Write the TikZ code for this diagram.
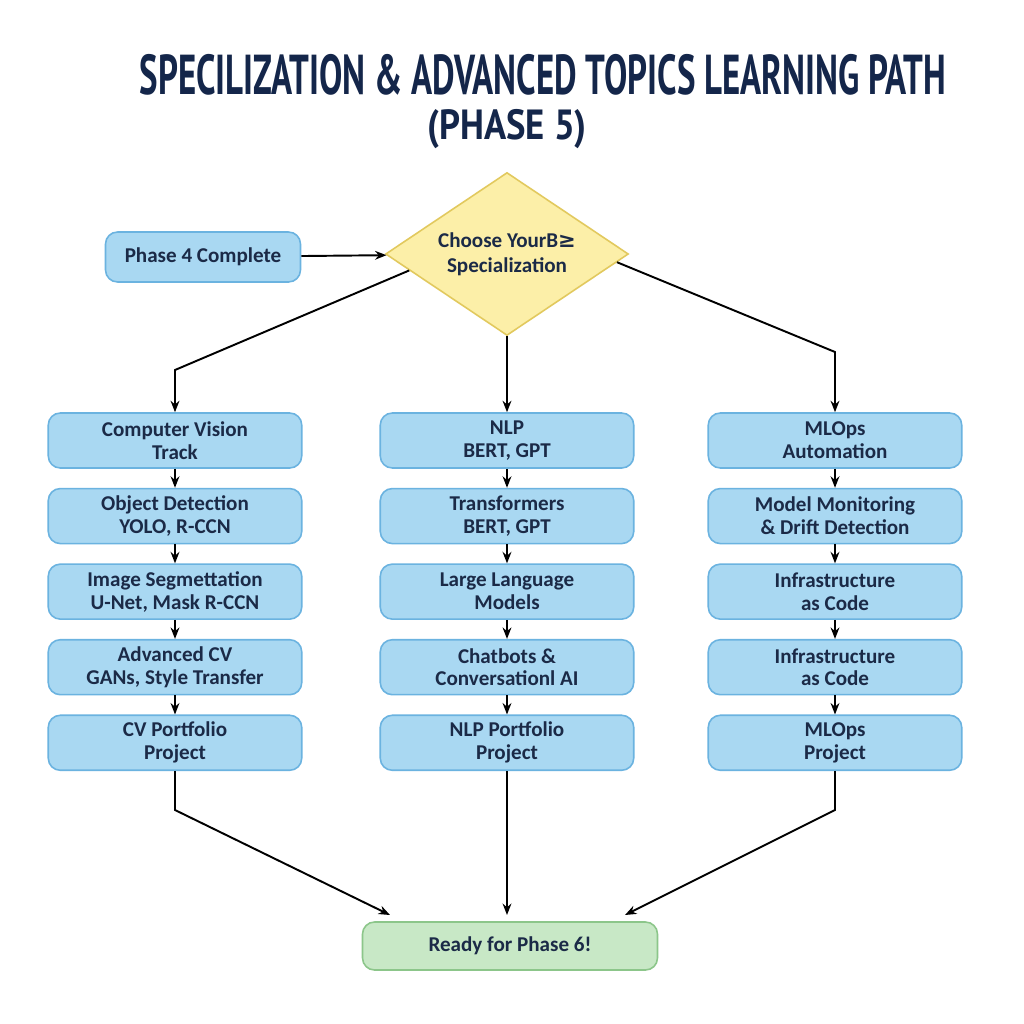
\documentclass[tikz,border=0pt]{standalone}
\usepackage{fontspec}
\setmainfont{Carlito}
\newfontfamily\titlefont{PT Sans}
\newfontfamily\symfont{DejaVu Sans}
\usetikzlibrary{arrows.meta,positioning,shapes.geometric,calc}
\definecolor{boxfill}{HTML}{A9D8F2}
\definecolor{boxline}{HTML}{6BB3E0}
\definecolor{choicefill}{HTML}{FCEFA8}
\definecolor{choiceline}{HTML}{E2C95E}
\definecolor{donefill}{HTML}{C8E8C6}
\definecolor{doneline}{HTML}{8CC68A}
\definecolor{textc}{HTML}{1B2A47}
\definecolor{titlec}{HTML}{14264A}

\begin{document}
\begin{tikzpicture}[x=0.02cm, y=-0.02cm, font=\bfseries, >={Stealth[length=6.5pt,width=5pt]}, line width=1.1pt,
  track/.style={draw=boxline, line width=0.9pt, fill=boxfill, rounded corners=0.24cm, text=textc,
    minimum width=5.07cm, minimum height=1.1cm, inner ysep=1pt, align=center, font=\bfseries\fontsize{12}{13}\selectfont},
  choice/.style={diamond, draw=choiceline, line width=0.9pt, fill=choicefill, text=textc, aspect=1.5,
    minimum width=4.86cm, minimum height=3.26cm, inner sep=0pt, align=center, font=\bfseries\fontsize{12}{14}\selectfont},
  done/.style={draw=doneline, line width=0.9pt, fill=donefill, rounded corners=0.24cm, text=textc,
    minimum width=5.9cm, minimum height=0.96cm, font=\bfseries\fontsize{12}{14}\selectfont},
  heading/.style={text=titlec, font=\titlefont\bfseries, inner sep=0pt}]
  \useasboundingbox[fill=white] (0,0) rectangle (1024,1024);

  % title
  \node[heading] (title1) at (543,75) {\fontsize{32}{34}\selectfont\scalebox{0.62}[1]{SPECILIZATION \& ADVANCED TOPICS LEARNING PATH}};
  \node[heading] (title2) at (507,129) {\fontsize{24}{26}\selectfont\scalebox{0.87}[1]{(PHASE 5)}};

  % start and choice
  \node[track, minimum width=3.9cm, minimum height=1cm] (p4) at (203,257) {Phase 4 Complete};
  \node[choice] (dia) at (507,254) {Choose YourB{\symfont ≥}\\Specialization};
  \draw[->] (p4) -- (dia);

  % computer vision track
  \node[track] (cv1) at (175,440.5) {Computer Vision\\Track};
  \node[track, below=0.38cm of cv1] (cv2) {Object Detection\\YOLO, R-CCN};
  \node[track, below=0.38cm of cv2] (cv3) {Image Segmettation\\U-Net, Mask R-CCN};
  \node[track, below=0.38cm of cv3] (cv4) {Advanced CV\\GANs, Style Transfer};
  \node[track, below=0.38cm of cv4] (cv5) {CV Portfolio\\Project};

  % nlp track
  \node[track] (nlp1) at (507,440.5) {NLP\\BERT, GPT};
  \node[track, below=0.38cm of nlp1] (nlp2) {Transformers\\BERT, GPT};
  \node[track, below=0.38cm of nlp2] (nlp3) {Large Language\\Models};
  \node[track, below=0.38cm of nlp3] (nlp4) {Chatbots \&\\Conversationl AI};
  \node[track, below=0.38cm of nlp4] (nlp5) {NLP Portfolio\\Project};

  % mlops track
  \node[track] (ml1) at (835,440.5) {MLOps\\Automation};
  \node[track, below=0.38cm of ml1] (ml2) {Model Monitoring\\\& Drift Detection};
  \node[track, below=0.38cm of ml2] (ml3) {Infrastructure\\as Code};
  \node[track, below=0.38cm of ml3] (ml4) {Infrastructure\\as Code};
  \node[track, below=0.38cm of ml4] (ml5) {MLOps\\Project};

  \node[done] (ready) at (510,946) {Ready for Phase 6!};

  % branches
  \coordinate (lk) at (175,370);
  \coordinate (rk) at (835,352);
  \draw[->] ($(dia.west)!0.2!(dia.south)$) -- (lk) -- (cv1);
  \draw[->] (dia) -- (nlp1);
  \draw[->] ($(dia.east)!0.1!(dia.south)$) -- (rk) -- (ml1);

  \foreach \t in {cv,nlp,ml}{
    \foreach \a/\b in {1/2,2/3,3/4,4/5}
      \draw[->] (\t\a) -- (\t\b);
  }

  % merge
  \coordinate (lb) at (175,810);
  \coordinate (rb) at (835,810);
  \coordinate (lin) at (390,915);
  \coordinate (rin) at (625,915);
  \draw[->] (cv5) -- (lb) -- (lin);
  \draw[->] (nlp5) -- (nlp5 |- lin);
  \draw[->] (ml5) -- (rb) -- (rin);
\end{tikzpicture}
\end{document}
